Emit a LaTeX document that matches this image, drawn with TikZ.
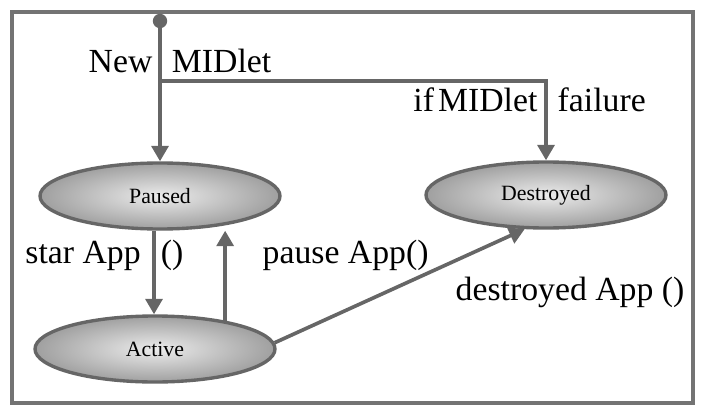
\documentclass[tikz,border=0pt]{standalone}
\usepackage{fontspec}
\setmainfont{Liberation Serif}
\usetikzlibrary{arrows.meta, positioning, shapes.geometric}

\begin{document}
\begin{tikzpicture}[
  state/.style={ellipse, draw=black!60, line width=2.4pt, inner sep=0pt,
                minimum width=6cm, minimum height=1.65cm,
                shading=radial, inner color=gray!15, outer color=gray!75,
                font=\fontsize{15.5}{18}\selectfont},
  arr/.style={draw=black!60, line width=2.6pt,
              -{Triangle[width=12pt, length=11pt]}},
  lbl/.style={anchor=base, font=\fontsize{24}{28}\selectfont}
]
  \useasboundingbox (0,0) rectangle (17.55,10.325);
  \draw[black!55, line width=2.6pt] (0.3,10.025) rectangle (17.32,0.25);

  \node[circle, fill=black!60, minimum size=0.36cm, inner sep=0pt] (dot) at (4.0, 9.8) {};
  \node[state] (paused) at (4.0, 5.425) {Paused};
  \node[state] (destr)  at (13.65, 5.45) {Destroyed};
  \node[state] (active) at (3.875, 1.6) {Active};
  \coordinate (split) at (4.0, 8.3);

  \draw[arr] (dot) -- (paused);
  \draw[arr] (split) -| (destr);
  \draw[arr] ([xshift=-0.15cm]paused.south) -- ([xshift=-0.15cm]paused.south |- active.north);
  \draw[arr] (active.22) -- (active.22 |- paused.south);
  \draw[arr] (active.3) -- (destr.238);

  \node[lbl] (newm)  at (4.5, 8.525)  {New\hspace{0.58em}MIDlet};
  \node[lbl] (fail)  at (13.24, 7.525) {if\hspace{0.12em}MIDlet\hspace{0.6em}failure};
  \node[lbl] (start) at (2.61, 3.75)  {star App\hspace{0.6em}()};
  \node[lbl] (pause) at (8.64, 3.75)  {pause App()};
  \node[lbl] (destl) at (14.25, 2.825) {destroyed App ()};
\end{tikzpicture}
\end{document}
